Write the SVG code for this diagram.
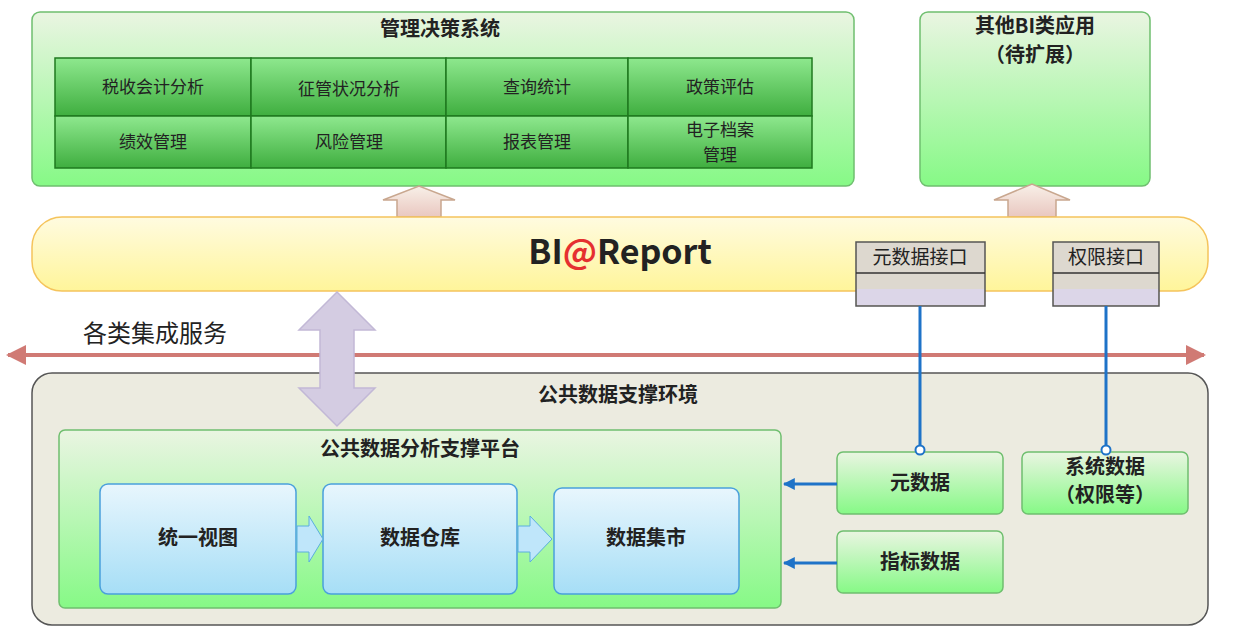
<svg xmlns="http://www.w3.org/2000/svg" width="1239" height="642" viewBox="0 0 1239 642">
<defs>
<linearGradient id="gPanel" x1="0" y1="0" x2="0" y2="1"><stop offset="0" stop-color="#eaf5e2"/><stop offset="1" stop-color="#86f986"/></linearGradient>
<linearGradient id="gCell" x1="0" y1="0" x2="0" y2="1"><stop offset="0" stop-color="#8ee88e"/><stop offset="1" stop-color="#3fae3f"/></linearGradient>
<linearGradient id="gBar" x1="0" y1="0" x2="0" y2="1"><stop offset="0" stop-color="#fffbe0"/><stop offset="1" stop-color="#fff59a"/></linearGradient>
<linearGradient id="gBlue" x1="0" y1="0" x2="0" y2="1"><stop offset="0" stop-color="#e8f6fd"/><stop offset="1" stop-color="#a6def6"/></linearGradient>
<linearGradient id="gUp" x1="0" y1="0" x2="0" y2="1"><stop offset="0" stop-color="#f8f0e8"/><stop offset="1" stop-color="#e9c7c0"/></linearGradient>
<marker id="bArrow" viewBox="0 0 10 10" refX="9" refY="5" markerWidth="4" markerHeight="4" orient="auto"><path d="M0 0L10 5L0 10z" fill="#1e73c8"/></marker>
<marker id="rArrow" viewBox="0 0 10 10" refX="9" refY="5" markerWidth="5" markerHeight="5" orient="auto-start-reverse"><path d="M0 0L10 5L0 10z" fill="#d07a74"/></marker>
</defs>
<style>
text{font-family:"Noto Sans CJK SC","Liberation Sans",sans-serif;fill:#222;text-anchor:middle}
.cell{fill:url(#gCell);stroke:#1f7a1f;stroke-width:1.5}
.ct{font-size:17px}
.bt{font-size:20px;font-weight:bold}
.panel{fill:url(#gPanel);stroke:#6fbf6f;stroke-width:1.5}
.node{fill:url(#gPanel);stroke:#6fbf6f;stroke-width:1.5}
.blue{fill:url(#gBlue);stroke:#4aa0dc;stroke-width:1.5}
.iface{fill:#ddd8cf;stroke:#555;stroke-width:1.5}
.up{fill:url(#gUp);stroke:#c9a78f;stroke-width:1.5}
</style>
<g id="mgmt">
<rect class="panel" x="32" y="12" width="822" height="174" rx="8"/>
<text class="bt" x="440" y="36" font-size="19">管理决策系统</text>
<rect class="cell" x="55" y="58" width="196" height="58"/><text class="ct" x="153" y="93">税收会计分析</text>
<rect class="cell" x="251" y="58" width="195" height="58"/><text class="ct" x="349" y="95">征管状况分析</text>
<rect class="cell" x="446" y="58" width="182" height="58"/><text class="ct" x="537" y="93">查询统计</text>
<rect class="cell" x="628" y="58" width="184" height="58"/><text class="ct" x="720" y="93">政策评估</text>
<rect class="cell" x="55" y="116" width="196" height="52"/><text class="ct" x="153" y="148">绩效管理</text>
<rect class="cell" x="251" y="116" width="195" height="52"/><text class="ct" x="349" y="148">风险管理</text>
<rect class="cell" x="446" y="116" width="182" height="52"/><text class="ct" x="537" y="148">报表管理</text>
<rect class="cell" x="628" y="116" width="184" height="52"/><text class="ct" x="720" y="136">电子档案</text><text class="ct" x="720" y="161">管理</text>
</g>
<g id="otherbi">
<rect class="panel" x="920" y="12" width="230" height="174" rx="8"/>
<text class="bt" x="1035" y="33" font-size="19">其他BI类应用</text>
<text class="bt" x="1035" y="62" font-size="19">（待扩展）</text>
</g>
<g id="arrowsup">
<path class="up" d="M397 217V200H383L419 186L455 200H441V217Z"/>
<path class="up" d="M1008 217V200H994L1032 184L1070 200H1056V217Z"/>
</g>
<g id="bireport">
<rect x="32" y="217" width="1176" height="74" rx="30" fill="url(#gBar)" stroke="#f5c45c" stroke-width="1.5"/>
<text x="620" y="264" font-family="Liberation Sans,sans-serif" font-size="34" font-weight="bold" fill="#111">BI<tspan fill="#e53030">@</tspan>Report</text>
</g>
<g id="iface1">
<rect class="iface" x="856" y="242" width="129" height="64"/>
<line x1="856" y1="273" x2="985" y2="273" stroke="#333" stroke-width="1.5"/>
<rect x="857" y="289" width="127" height="16" fill="#dcd6e8"/>
<text x="920" y="264" font-size="19">元数据接口</text>
</g>
<g id="iface2">
<rect class="iface" x="1053" y="242" width="106" height="64"/>
<line x1="1053" y1="273" x2="1159" y2="273" stroke="#333" stroke-width="1.5"/>
<rect x="1054" y="289" width="104" height="16" fill="#dcd6e8"/>
<text x="1106" y="264" font-size="19">权限接口</text>
</g>
<g id="services">
<line x1="8" y1="355" x2="1204" y2="355" stroke="#d07a74" stroke-width="4" marker-start="url(#rArrow)" marker-end="url(#rArrow)"/>
<text x="155" y="342" font-size="24">各类集成服务</text>
</g>
<g id="env">
<rect x="32" y="373" width="1176" height="252" rx="20" fill="#ecebe0" stroke="#555" stroke-width="1.5"/>
<text class="bt" x="618" y="402" font-size="22">公共数据支撑环境</text>
</g>
<g id="biarrow">
<path d="M337 292L375 330H354V388H375L337 426L299 388H320V330H299Z" fill="#d4cce2" stroke="#c2b8d6" stroke-width="1.5"/>
</g>
<g id="platform">
<rect class="node" x="59" y="430" width="722" height="178" rx="6"/>
<text class="bt" x="420" y="456" font-size="19">公共数据分析支撑平台</text>
</g>
<g id="view"><rect class="blue" x="100" y="484" width="196" height="110" rx="8"/><text class="bt" x="198" y="545">统一视图</text></g>
<g id="dw"><rect class="blue" x="323" y="484" width="194" height="110" rx="8"/><text class="bt" x="420" y="545">数据仓库</text></g>
<g id="mart"><rect class="blue" x="554" y="488" width="185" height="106" rx="8"/><text class="bt" x="646" y="545">数据集市</text></g>
<g id="meta"><rect class="node" x="837" y="452" width="166" height="62" rx="6"/><text class="bt" x="920" y="490">元数据</text></g>
<g id="sysdata"><rect class="node" x="1022" y="452" width="166" height="62" rx="6"/><text class="bt" x="1105" y="474" font-size="19">系统数据</text><text class="bt" x="1105" y="502" font-size="19">（权限等）</text></g>
<g id="indicator"><rect class="node" x="837" y="531" width="166" height="62" rx="6"/><text class="bt" x="920" y="569">指标数据</text></g>
<g id="connectors">
<path d="M297 532V526H309V516L323 539L309 562V552H297Z" fill="#bfe6fa" stroke="#5aaee0"/>
<path d="M518 532V526H530V516L552 539L530 562V552H518Z" fill="#bfe6fa" stroke="#5aaee0"/>
<line x1="920" y1="306" x2="920" y2="446" stroke="#1e73c8" stroke-width="3"/>
<circle cx="920" cy="450" r="4.5" fill="#fff" stroke="#1e73c8" stroke-width="2"/>
<line x1="1106" y1="306" x2="1106" y2="446" stroke="#1e73c8" stroke-width="3"/>
<circle cx="1106" cy="450" r="4.5" fill="#fff" stroke="#1e73c8" stroke-width="2"/>
<line x1="837" y1="484" x2="784" y2="484" stroke="#1e73c8" stroke-width="3" marker-end="url(#bArrow)"/>
<line x1="837" y1="563" x2="784" y2="563" stroke="#1e73c8" stroke-width="3" marker-end="url(#bArrow)"/>
</g>
</svg>
